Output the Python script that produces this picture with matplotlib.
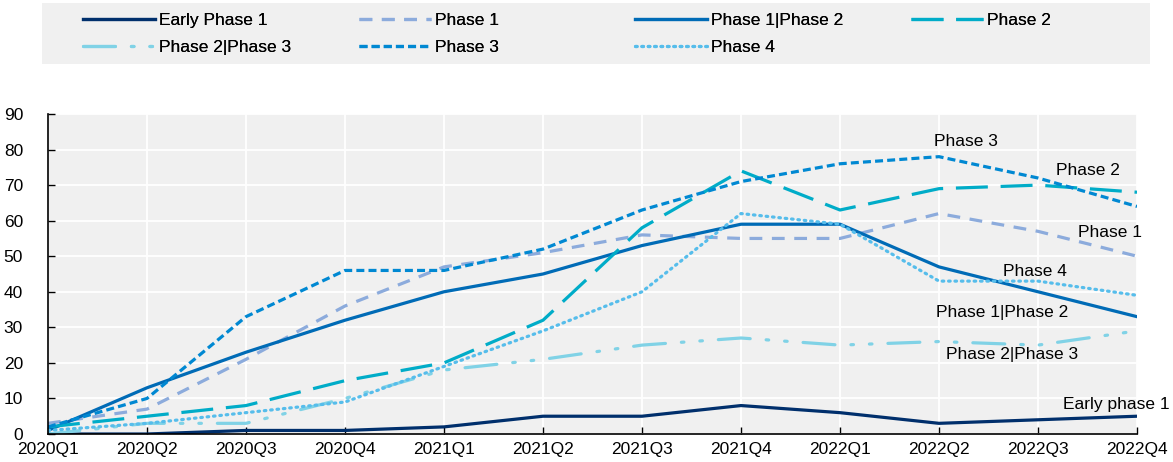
import matplotlib
matplotlib.use("Agg")
import matplotlib.pyplot as plt
from matplotlib.patches import Rectangle

plt.rcParams['font.family'] = ['Liberation Sans', 'DejaVu Sans']

quarters = ['2020Q1', '2020Q2', '2020Q3', '2020Q4', '2021Q1', '2021Q2',
            '2021Q3', '2021Q4', '2022Q1', '2022Q2', '2022Q3', '2022Q4']

early_phase1 = [0, 0, 1, 1, 2, 5, 5, 8, 6, 3, 4, 5]
phase1 = [3, 7, 21, 36, 47, 51, 56, 55, 55, 62, 57, 50]
phase1_2 = [1, 13, 23, 32, 40, 45, 53, 59, 59, 47, 40, 33]
phase2 = [2, 5, 8, 15, 20, 32, 58, 74, 63, 69, 70, 68]
phase2_3 = [0, 3, 3, 10, 18, 21, 25, 27, 25, 26, 25, 29]
phase3 = [2, 10, 33, 46, 46, 52, 63, 71, 76, 78, 72, 64]
phase4 = [1, 3, 6, 9, 19, 29, 40, 62, 59, 43, 43, 39]

fig = plt.figure(figsize=(11.73, 4.62), dpi=100)
ax = fig.add_axes([48/1173, 28/462, 1089/1173, 320/462])
ax.set_facecolor('#f0f0f0')

x = range(len(quarters))
lw = 2.3
h_ep1, = ax.plot(x, early_phase1, color='#002f6c', lw=lw, label='Early Phase 1')
h_p1, = ax.plot(x, phase1, color='#8cabdc', lw=lw, dashes=(4, 3), label='Phase 1')
h_p12, = ax.plot(x, phase1_2, color='#006bb6', lw=lw, label='Phase 1|Phase 2')
h_p2, = ax.plot(x, phase2, color='#00acc8', lw=lw, dashes=(10, 4), label='Phase 2')
h_p23, = ax.plot(x, phase2_3, color='#80d2e6', lw=lw, dashes=(10, 5, 0.8, 5, 0.8, 5),
                 dash_capstyle='round', label='Phase 2|Phase 3')
h_p3, = ax.plot(x, phase3, color='#0088d2', lw=lw, dashes=(2.5, 1.3), label='Phase 3')
h_p4, = ax.plot(x, phase4, color='#56bdeb', lw=lw, dashes=(0.5, 1.5),
                dash_capstyle='round', label='Phase 4')

ax.set_xlim(0, len(quarters) - 1)
ax.set_ylim(0, 90)
ax.set_yticks(range(0, 91, 10))
ax.set_xticks(list(x))
ax.set_xticklabels(quarters)
ax.grid(True, color='white', lw=1.3)
ax.set_axisbelow(True)
ax.tick_params(direction='in', length=5, width=1, labelsize=12.5, colors='black')
ax.tick_params(axis='x', pad=6)
ax.tick_params(axis='y', pad=18)
for side in ['top', 'right']:
    ax.spines[side].set_visible(False)
for side in ['left', 'bottom']:
    ax.spines[side].set_color('black')
    ax.spines[side].set_linewidth(1.2)

labels = [('Phase 3', 9.27, 82.4), ('Phase 2', 10.5, 74.2), ('Phase 1', 10.73, 56.8),
          ('Phase 4', 9.97, 45.8), ('Phase 1|Phase 2', 9.64, 34.3),
          ('Phase 2|Phase 3', 9.74, 22.5), ('Early phase 1', 10.79, 8.2)]
for txt, lx, ly in labels:
    ax.text(lx, ly, txt, ha='center', va='center', fontsize=12.5, clip_on=False)

# legend background strip
fig.patches.append(Rectangle((42/1173, 1 - 64/462), 1108/1173, 61/462,
                             transform=fig.transFigure, facecolor='#f0f0f0',
                             edgecolor='none', zorder=0))

# legend laid out row by row, one legend per column
columns = [[h_ep1, h_p23], [h_p1, h_p3], [h_p12, h_p4], [h_p2]]
for i, col in enumerate(columns):
    leg = fig.legend(handles=col, loc='upper left',
                     bbox_to_anchor=((83 + 276 * i) / 1173, 1 - 13/462),
                     frameon=False, fontsize=12.5, handlelength=4.15,
                     borderaxespad=0, borderpad=0, labelspacing=0.68,
                     handletextpad=0.2)
    fig.add_artist(leg)

fig.savefig('out.png', dpi=100)
